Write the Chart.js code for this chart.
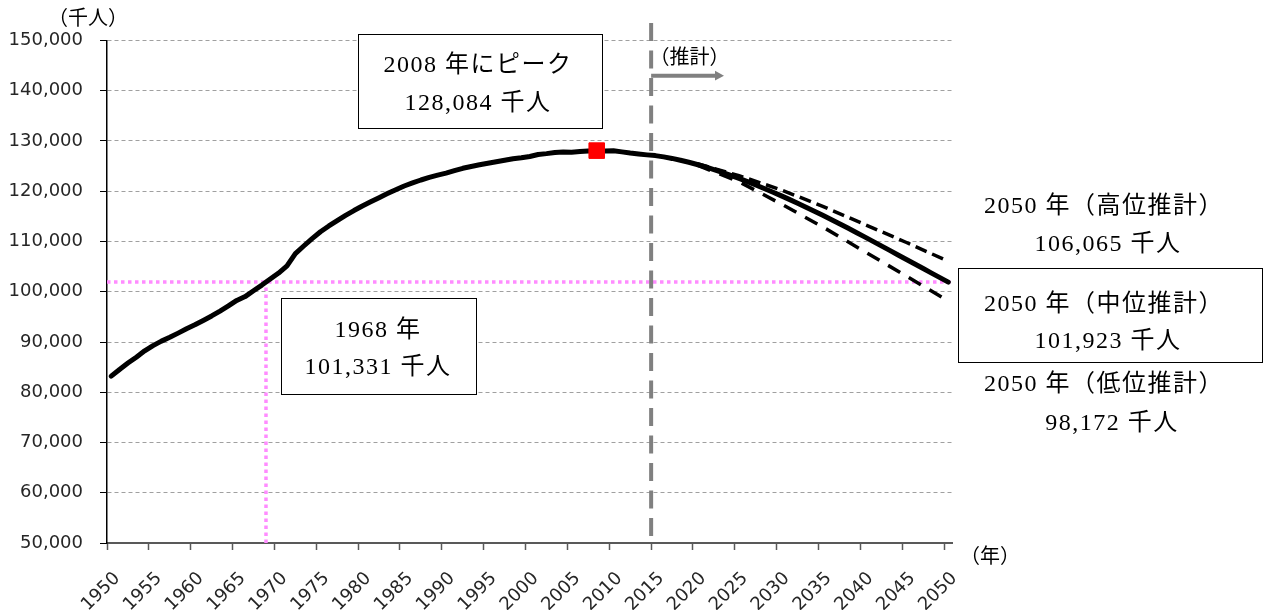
<!DOCTYPE html>
<html>
<head>
<meta charset="utf-8">
<script src="https://cdn.jsdelivr.net/npm/chart.js@4.4.1/dist/chart.umd.min.js"></script>
<style>
  html, body { margin: 0; padding: 0; background: #fff; }
  #wrap { width: 1264px; height: 610px; position: relative; }
</style>
</head>
<body>
<div id="wrap"><canvas id="popChart"></canvas></div>
<script>
// 総人口（千人）: 1950-2015 実績, 2016-2050 推計（中位）
var firstYear = 1950;
var lastYear = 2050;
var projStart = 2015;

var estimates = [
  83200, 84541, 85808, 86981, 88239, 89276, 90172, 90928, 91767, 92641,
  93419, 94287, 95181, 96156, 97182, 98275, 99036, 100196, 101331, 102536,
  103720, 105145, 107595, 109104, 110573, 111940, 113094, 114165, 115190, 116155,
  117060, 117902, 118728, 119536, 120305, 121049, 121660, 122239, 122745, 123205,
  123611, 124101, 124567, 124938, 125265, 125570, 125859, 126157, 126472, 126667,
  126926, 127316, 127486, 127694, 127787, 127768, 127901, 128033, 128084, 128032,
  128057, 127834, 127593, 127414, 127237, 127095
];
var medium = [
  126838, 126532, 126177, 125773, 125325, 124836, 124310, 123751, 123161, 122544,
  121903, 121240, 120555, 119850, 119125, 118380, 117616, 116833, 116033, 115216,
  114383, 113535, 112674, 111801, 110919, 110029, 109131, 108229, 107325, 106421,
  105518, 104616, 103716, 102819, 101923
];
var variantYears = [2020, 2025, 2030, 2035, 2040, 2045, 2050];
var highValues = [125500, 123100, 120300, 117000, 113400, 109800, 106065];
var lowValues  = [125200, 121900, 117500, 112900, 108000, 103100, 98172];
var tickYears = [1950, 1955, 1960, 1965, 1970, 1975, 1980, 1985, 1990, 1995, 2000,
                 2005, 2010, 2015, 2020, 2025, 2030, 2035, 2040, 2045, 2050];

var years = [];
for (var yr = firstYear; yr <= lastYear; yr++) years.push(yr);
var popAll = estimates.concat(medium);

function onYears(vy, vals) {
  return years.map(function (y) {
    var i = vy.indexOf(y);
    return i < 0 ? null : vals[i];
  });
}
var peakVal = Math.max.apply(null, popAll);
var peakIdx = popAll.indexOf(peakVal);
var peakData = years.map(function (y, i) { return i === peakIdx ? peakVal : null; });

function fmt(v) { return v.toLocaleString('en-US'); }

var serif = "24px 'Liberation Serif', 'Noto Sans CJK JP'";
var gothic = "20px 'Noto Sans CJK JP'";

var annot = {
  id: 'annot',
  beforeDatasetsDraw: function (chart) {
    var ctx = chart.ctx, a = chart.chartArea, x = chart.scales.x, y = chart.scales.y;
    // 2050年中位推計値の水準線
    var target = medium[medium.length - 1];
    var yPix = y.getPixelForValue(target);
    var k = popAll.findIndex(function (v) { return v >= target; });
    var frac = k - 1 + (target - popAll[k - 1]) / (popAll[k] - popAll[k - 1]);
    var xPix = x.getPixelForValue(frac);
    ctx.save();
    ctx.strokeStyle = '#ff8cff';
    ctx.lineWidth = 3.5;
    ctx.setLineDash([3.5, 3.5]);
    ctx.beginPath();
    ctx.moveTo(a.left, yPix); ctx.lineTo(a.right, yPix);
    ctx.moveTo(xPix, a.bottom); ctx.lineTo(xPix, yPix);
    ctx.stroke();
    // 推計開始
    var xp = x.getPixelForValue(years.indexOf(projStart) - 0.5);
    ctx.strokeStyle = '#808080';
    ctx.lineWidth = 4;
    ctx.setLineDash([18, 9.5]);
    ctx.beginPath();
    ctx.moveTo(xp, 23); ctx.lineTo(xp, a.bottom);
    ctx.stroke();
    ctx.setLineDash([]);
    ctx.beginPath();
    ctx.moveTo(xp, 75.7); ctx.lineTo(716, 75.7);
    ctx.stroke();
    ctx.fillStyle = '#808080';
    ctx.beginPath();
    ctx.moveTo(724, 75.7); ctx.lineTo(715, 70.8); ctx.lineTo(715, 80.6);
    ctx.closePath(); ctx.fill();
    ctx.restore();
  },
  afterDraw: function (chart) {
    var ctx = chart.ctx;
    ctx.save();
    function box(l, t, r, b) {
      ctx.fillStyle = '#fff';
      ctx.fillRect(l, t, r - l, b - t);
      ctx.strokeStyle = '#000';
      ctx.lineWidth = 1;
      ctx.strokeRect(l + 0.5, t + 0.5, r - l, b - t);
    }
    function txt(s, cx, cy, font, sp) {
      ctx.font = font;
      ctx.letterSpacing = sp || '0px';
      ctx.fillStyle = '#000';
      ctx.textAlign = 'center';
      ctx.textBaseline = 'middle';
      ctx.fillText(s, cx, cy);
    }
    var ls = '1.5px';
    box(358, 34, 602, 128);
    txt(years[peakIdx] + ' 年にピーク', 478, 66, serif, ls);
    txt(fmt(peakVal) + ' 千人', 478, 103.3, serif, ls);

    var target = medium[medium.length - 1];
    var k = popAll.findIndex(function (v) { return v >= target; }) - 1;
    box(281, 298, 476, 394);
    txt(years[k] + ' 年', 378, 330.7, serif, ls);
    txt(fmt(popAll[k]) + ' 千人', 378, 368, serif, ls);

    txt(lastYear + ' 年（高位推計）', 1104, 206.7, serif, ls);
    txt(fmt(highValues[highValues.length - 1]) + ' 千人', 1108, 245, serif, ls);
    box(958, 268, 1262, 362);
    txt(lastYear + ' 年（中位推計）', 1104, 305, serif, ls);
    txt(fmt(target) + ' 千人', 1108, 341.7, serif, ls);
    txt(lastYear + ' 年（低位推計）', 1104, 385, serif, ls);
    txt(fmt(lowValues[lowValues.length - 1]) + ' 千人', 1112, 423.3, serif, ls);

    txt('（千人）', 88, 17, gothic);
    txt('（推計）', 689.5, 56.7, gothic);
    txt('（年）', 990, 555, gothic);
    ctx.restore();
  }
};

Chart.defaults.font.family = "'DejaVu Sans', sans-serif";
Chart.defaults.color = '#262626';

var ctx = document.getElementById('popChart').getContext('2d');
var popChart = new Chart(ctx, {
  type: 'line',
  data: {
    labels: years,
    datasets: [{
      label: 'ピーク',
      data: peakData,
      showLine: false,
      pointStyle: 'rect',
      pointRadius: 11,
      pointBackgroundColor: '#ff0000',
      pointBorderColor: '#ff0000',
      pointBorderWidth: 1
    }, {
      label: '高位推計',
      data: onYears(variantYears, highValues),
      spanGaps: true,
      borderColor: '#000',
      borderWidth: 3.5,
      borderDash: [12, 6],
      pointRadius: 0
    }, {
      label: '低位推計',
      data: onYears(variantYears, lowValues),
      spanGaps: true,
      borderColor: '#000',
      borderWidth: 3.5,
      borderDash: [14, 10],
      pointRadius: 0
    }, {
      label: '総人口',
      data: popAll,
      borderColor: '#000',
      borderWidth: 5,
      pointRadius: 0,
      borderJoinStyle: 'round',
      borderCapStyle: 'round'
    }]
  },
  options: {
    responsive: true,
    maintainAspectRatio: false,
    animation: false,
    events: [],
    layout: {
      padding: { top: 40.5, right: 311.5, bottom: 0, left: 0 }
    },
    plugins: {
      legend: { display: false },
      tooltip: { enabled: false }
    },
    scales: {
      x: {
        type: 'category',
        offset: true,
        afterFit: function (s) { s.height = 67; },
        border: { color: '#595959', width: 2 },
        grid: {
          offset: true,
          drawOnChartArea: false,
          tickLength: 7,
          tickWidth: 1.5,
          tickColor: function (c) { return c.index % 5 === 0 ? '#595959' : 'rgba(0,0,0,0)'; }
        },
        ticks: {
          autoSkip: false,
          minRotation: 45,
          maxRotation: 45,
          padding: 18,
          labelOffset: 6,
          font: { size: 18 },
          callback: function (v, i) {
            return tickYears.indexOf(years[i]) >= 0 ? String(years[i]) : '';
          }
        }
      },
      y: {
        min: 50000,
        max: 150000,
        afterFit: function (s) { s.width = 107; },
        border: { color: '#000', width: 1.5, dash: [4, 3] },
        grid: {
          color: '#a0a0a0',
          lineWidth: 1,
          tickLength: 7,
          tickColor: '#000',
          tickBorderDash: []
        },
        ticks: {
          stepSize: 10000,
          padding: 17,
          font: { size: 18 },
          callback: function (v) { return fmt(v); }
        }
      }
    }
  },
  plugins: [annot]
});
</script>
</body>
</html>
